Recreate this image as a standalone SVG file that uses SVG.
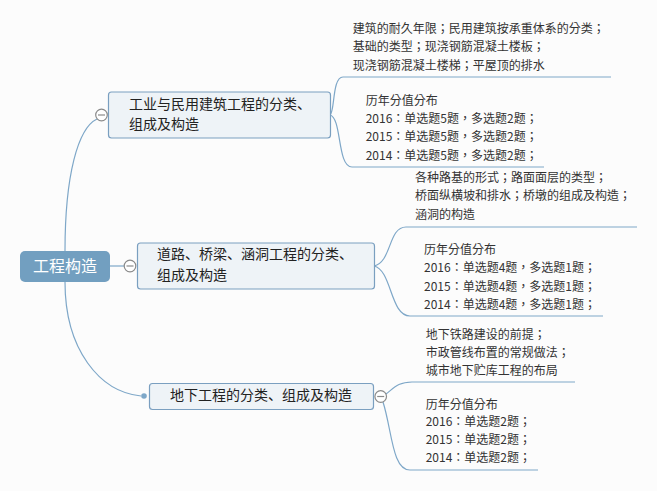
<svg xmlns="http://www.w3.org/2000/svg" width="657" height="491" viewBox="0 0 657 491">
<style>
  .bg{fill:#fcfcfc}
  .ln{fill:none;stroke:#7ea7c8;stroke-width:1.2}
  .node rect{fill:#eef3f7;stroke:#7a9fc0;stroke-width:1.2}
  .nt{font-family:"Noto Sans CJK SC","Noto Sans",sans-serif;font-size:14px;fill:#222}
  .ct{font-family:"Noto Sans CJK TC","Noto Sans CJK SC",sans-serif;font-size:12px;fill:#333}
  .rt{font-family:"Noto Sans CJK SC","Noto Sans",sans-serif;font-size:16px;fill:#ffffff}
  .cc circle{fill:#ffffff;stroke:#8a8a8a;stroke-width:1.2}
  .cc line{stroke:#8a8a8a;stroke-width:1.2}
</style>
<rect class="bg" x="0" y="0" width="657" height="491"/>
<g id="connectors">
  <path class="ln" d="M65,251 C65,175 78,128 97,119"/>
  <path class="ln" d="M110,266 L124,266"/>
  <path class="ln" d="M65,282 C65,350 100,392 141,396"/>
  <path class="ln" d="M330,115 C335,112 332,77 343,77 L611,77"/>
  <path class="ln" d="M330,115 C342,118 337,167 352,167 L544,167"/>
  <path class="ln" d="M374,266 C392,262 388,227 406,227 L637,227"/>
  <path class="ln" d="M374,266 C392,270 390,316 410,316 L603,316"/>
  <path class="ln" d="M386,394 C394,388 398,382 412,382 L575,382"/>
  <path class="ln" d="M383,402 C392,430 392,470 410,470 L538,470"/>
  <circle cx="144" cy="396" r="2.8" fill="#7ea7c8"/>
</g>
<g id="root">
  <rect x="20" y="251" width="90" height="31" rx="5" fill="#729fc0"/>
  <text class="rt" x="65" y="271.5" text-anchor="middle">工程构造</text>
</g>
<g id="node1" class="node">
  <rect x="108.5" y="92" width="222" height="46" rx="3"/>
  <text class="nt" x="129" y="108.6">工业与民用建筑工程的分类、</text>
  <text class="nt" x="129" y="129.3">组成及构造</text>
</g>
<g id="node2" class="node">
  <rect x="137.5" y="243" width="237" height="46" rx="3"/>
  <text class="nt" x="157" y="259.3">道路、桥梁、涵洞工程的分类、</text>
  <text class="nt" x="157" y="280.3">组成及构造</text>
</g>
<g id="node3" class="node">
  <rect x="149.5" y="383.5" width="224" height="26" rx="3"/>
  <text class="nt" x="170" y="400.3">地下工程的分类、组成及构造</text>
</g>
<g id="collapse1" class="cc">
  <circle cx="101.5" cy="115" r="5.8"/><line x1="98" y1="115" x2="105" y2="115"/>
</g>
<g id="collapse2" class="cc">
  <circle cx="130" cy="266" r="5.8"/><line x1="126.5" y1="266" x2="133.5" y2="266"/>
</g>
<g id="collapse3" class="cc">
  <circle cx="380.7" cy="396.5" r="5.8"/><line x1="377.2" y1="396.5" x2="384.2" y2="396.5"/>
</g>
<g id="child1a">
  <text class="ct" x="352.7" y="32.8">建筑的耐久年限；民用建筑按承重体系的分类；</text>
  <text class="ct" x="352.7" y="51.2">基础的类型；现浇钢筋混凝土楼板；</text>
  <text class="ct" x="352.7" y="69.5">现浇钢筋混凝土楼梯；平屋顶的排水</text>
</g>
<g id="child1b">
  <text class="ct" x="365.7" y="104.5">历年分值分布</text>
  <text class="ct" x="365.7" y="122.8">2016：单选题5题，多选题2题；</text>
  <text class="ct" x="365.7" y="141.2">2015：单选题5题，多选题2题；</text>
  <text class="ct" x="365.7" y="159.5">2014：单选题5题，多选题2题；</text>
</g>
<g id="child2a">
  <text class="ct" x="415" y="181.8">各种路基的形式；路面面层的类型；</text>
  <text class="ct" x="415" y="200.2">桥面纵横坡和排水；桥墩的组成及构造；</text>
  <text class="ct" x="415" y="218.5">涵洞的构造</text>
</g>
<g id="child2b">
  <text class="ct" x="424" y="253.8">历年分值分布</text>
  <text class="ct" x="424" y="272.2">2016：单选题4题，多选题1题；</text>
  <text class="ct" x="424" y="290.5">2015：单选题4题，多选题1题；</text>
  <text class="ct" x="424" y="308.5">2014：单选题4题，多选题1题；</text>
</g>
<g id="child3a">
  <text class="ct" x="425.7" y="338.5">地下铁路建设的前提；</text>
  <text class="ct" x="425.7" y="356.8">市政管线布置的常规做法；</text>
  <text class="ct" x="425.7" y="374.5">城市地下贮库工程的布局</text>
</g>
<g id="child3b">
  <text class="ct" x="425.7" y="408.5">历年分值分布</text>
  <text class="ct" x="425.7" y="426.2">2016：单选题2题；</text>
  <text class="ct" x="425.7" y="443.8">2015：单选题2题；</text>
  <text class="ct" x="425.7" y="461.8">2014：单选题2题；</text>
</g>
</svg>
